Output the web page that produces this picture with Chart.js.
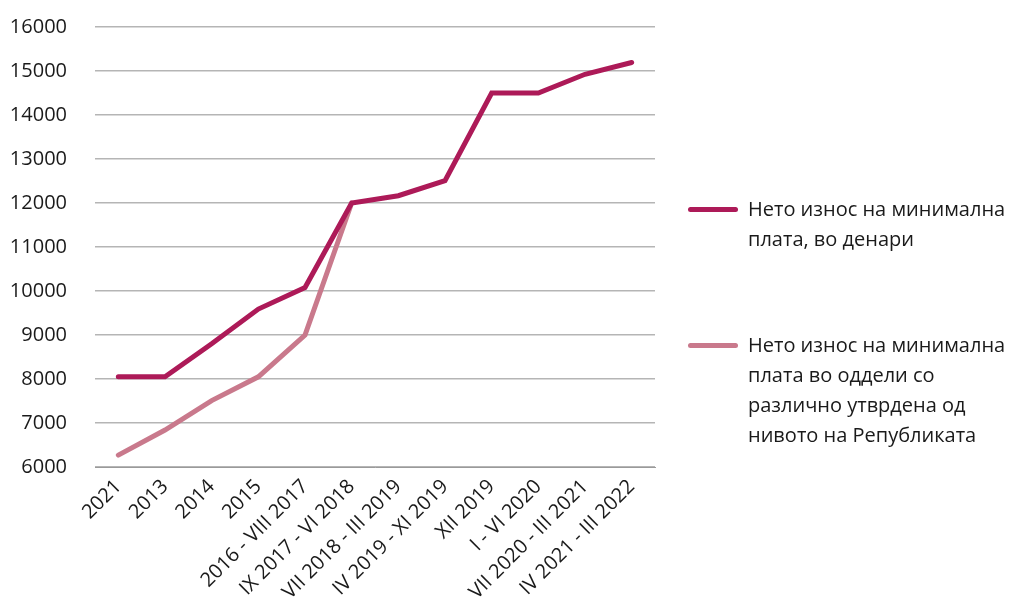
<!DOCTYPE html>
<html>
<head>
<meta charset="utf-8">
<script src="https://cdn.jsdelivr.net/npm/chart.js@4/dist/chart.umd.min.js"></script>
<style>
  html, body { margin: 0; padding: 0; background: #fff; }
  #wrap { position: relative; width: 1011px; height: 601px; }
  #legend { position: absolute; left: 686px; top: 0; font-family: "Open Sans", sans-serif; font-size: 20px; color: #1a1a1a; }
  .item { position: absolute; left: 0; width: 330px; }
  .item .swatch { position: absolute; left: 2px; top: 13px; width: 50px; height: 5px; border-radius: 3px; }
  .item .txt { margin-left: 62px; line-height: 30px; white-space: nowrap; }
</style>
</head>
<body>
<div id="wrap">
  <canvas id="chart" width="1011" height="601"></canvas>
  <div id="legend"></div>
</div>
<script>
// Kategorien (Perioden)
const categories = ['2021', '2013', '2014', '2015', '2016 - VIII 2017', 'IX 2017 - VI 2018',
  'VII 2018 - III 2019', 'IV 2019 - XI 2019', 'XII 2019', 'I - VI 2020', 'VII 2020 - III 2021', 'IV 2021 - III 2022'];

// Нето износ на минимална плата, во денари
const netoMinimalna = [8050, 8050, 8800, 9590, 10080, 12000, 12165, 12507, 14500, 14500, 14925, 15194];

// Нето износ во оддели со различно утврдена
const netoOddeli = [6270, 6840, 7510, 8050, 9000, 12000, null, null, null, null, null, null];

// Legenden-Texte
const legendLines = [
  ['Нето износ на минимална', 'плата, во денари'],
  ['Нето износ на минимална', 'плата во оддели со', 'различно утврдена од', 'нивото на Републиката']
];

const colors = ['#ad1a58', '#c9798c'];
const legendTops = [194, 330];

const ctx = document.getElementById('chart');

new Chart(ctx, {
  type: 'line',
  data: {
    labels: categories,
    datasets: [{
      label: legendLines[0].join(' '),
      data: netoMinimalna,
      borderColor: colors[0],
      backgroundColor: colors[0],
      borderWidth: 5,
      pointRadius: 0,
      borderCapStyle: 'round',
      tension: 0
    }, {
      label: legendLines[1].join(' '),
      data: netoOddeli,
      borderColor: colors[1],
      backgroundColor: colors[1],
      borderWidth: 5,
      pointRadius: 0,
      borderCapStyle: 'round',
      tension: 0,
      order: 1
    }]
  },
  options: {
    responsive: false,
    animation: false,
    layout: { padding: { left: 0, top: 27, right: 356, bottom: 0 } },
    plugins: {
      legend: { display: false },
      tooltip: { enabled: false }
    },
    scales: {
      x: {
        offset: true,
        grid: { display: false, drawTicks: false },
        border: { color: '#9a9a9a', width: 1 },
        ticks: {
          maxRotation: 45,
          minRotation: 45,
          autoSkip: false,
          padding: 8,
          color: '#1a1a1a',
          font: { family: 'Open Sans', size: 20 }
        },
        afterFit: (scale) => {
          scale.height = 134;
          scale.paddingLeft = 0;
          scale.paddingRight = 0;
        }
      },
      y: {
        min: 6000,
        max: 16000,
        grid: { color: '#b5b5b5', lineWidth: 1.5, drawTicks: false },
        border: { display: false },
        ticks: {
          stepSize: 1000,
          padding: 28,
          color: '#1a1a1a',
          font: { family: 'Open Sans', size: 20 },
          callback: (value) => String(value)
        },
        afterFit: (scale) => {
          scale.width = 95;
          scale.paddingTop = 0;
          scale.paddingBottom = 0;
        }
      }
    }
  }
});

// Legende als HTML aufbauen
const legend = document.getElementById('legend');
legendLines.forEach((lines, i) => {
  const item = document.createElement('div');
  item.className = 'item';
  item.style.top = legendTops[i] + 'px';
  item.innerHTML = `<div class="swatch" style="background:${colors[i]}"></div><div class="txt">${lines.join('<br>')}</div>`;
  legend.appendChild(item);
});
</script>
</body>
</html>
